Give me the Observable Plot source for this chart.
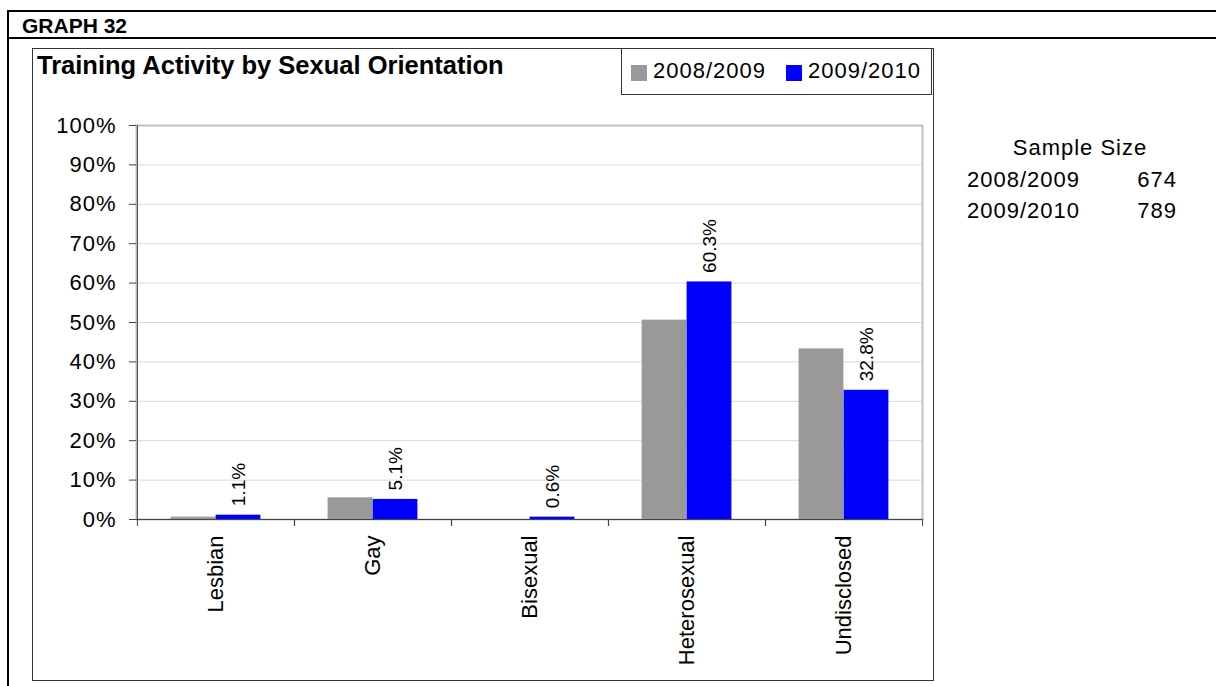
<!DOCTYPE html>
<html>
<head>
<meta charset="utf-8">
<script src="https://cdn.jsdelivr.net/npm/d3@7"></script>
<script src="https://cdn.jsdelivr.net/npm/@observablehq/plot@0.6"></script>
<style>
  html, body { margin: 0; padding: 0; background: #fff; }
  #page { position: relative; width: 1216px; height: 686px; overflow: hidden; font-family: "Liberation Sans", Arial, sans-serif; color: #000; }
  #page > svg { position: absolute; left: 0; top: 0; }
  #page > svg g[aria-label="y-axis tick label"] text { letter-spacing: 1px; }
  .abs { position: absolute; line-height: 1; white-space: nowrap; }
  .wide { letter-spacing: 1px; }
  .line { position: absolute; background: #000; }
</style>
</head>
<body>
<div id="page"></div>
<script>
// ---- data ----
const categories = ["Lesbian", "Gay", "Bisexual", "Heterosexual", "Undisclosed"];
const seriesNames = ["2008/2009", "2009/2010"];
const values2008 = [0.006, 0.055, 0.0, 0.506, 0.433];
const values2009 = [0.011, 0.051, 0.006, 0.603, 0.328];
const labels2009 = ["1.1%", "5.1%", "0.6%", "60.3%", "32.8%"];
const yTicks = [0, 0.1, 0.2, 0.3, 0.4, 0.5, 0.6, 0.7, 0.8, 0.9, 1.0];
const sampleSizes = [674, 789];
const seriesColors = ["#999999", "#0000ff"];
const headerText = "GRAPH 32";
const titleText = "Training Activity by Sexual Orientation";
const sampleTitle = "Sample Size";

const data2008 = categories.map((c, i) => ({category: c, value: values2008[i]}));
const data2009 = categories.map((c, i) => ({category: c, value: values2009[i], label: labels2009[i]}));

const W = 1216, H = 686;
const mL = 136, mR = 294, mT = 125, mB = 167;
const band = (W - mL - mR) / categories.length;
const half = band / 2;
const barW = 45;

const chart = Plot.plot({
  width: W, height: H,
  marginLeft: mL, marginRight: mR, marginTop: mT, marginBottom: mB,
  style: {fontFamily: '"Liberation Sans", Arial, sans-serif', background: "transparent", color: "#000"},
  x: {domain: categories, padding: 0, axis: null},
  y: {domain: [0, 1], axis: null},
  marks: [
    Plot.gridY(yTicks.slice(1), {stroke: "#d9d9d9", strokeOpacity: 1}),
    Plot.frame({stroke: "#c0c0c0", strokeWidth: 2}),
    Plot.barY(data2008, {x: "category", y: "value", fill: seriesColors[0], insetLeft: half - barW, insetRight: half}),
    Plot.barY(data2009, {x: "category", y: "value", fill: seriesColors[1], insetLeft: half, insetRight: half - barW}),
    Plot.text(data2009, {x: "category", y: "value", text: "label", dx: barW / 2, dy: -9, rotate: -90, textAnchor: "start", fontSize: 19, fill: "#000"}),
    Plot.ruleY([0], {stroke: "#444"}),
    Plot.ruleX([categories[0]], {dx: -half, stroke: "#444"}),
    Plot.axisY({ticks: yTicks, tickFormat: d3.format(".0%"), tickSize: 7, tickPadding: 13, fontSize: 22, fill: "#000", stroke: "#444", strokeOpacity: 1, label: null}),
    Plot.axisX({tickSize: 7, tickFormat: () => "", dx: -half, stroke: "#444", strokeOpacity: 1, label: null}),
    Plot.axisX({tickSize: 7, tickFormat: () => "", dx: half, stroke: "#444", strokeOpacity: 1, label: null}),
    Plot.axisX({tickSize: 0, tickPadding: 16, tickRotate: -90, fontSize: 22, fill: "#000", label: null})
  ]
});

const page = document.getElementById("page");
page.appendChild(chart);

function addLine(x, y, w, h, color) {
  const d = document.createElement("div");
  d.className = "line";
  Object.assign(d.style, {left: x + "px", top: y + "px", width: w + "px", height: h + "px"});
  if (color) d.style.background = color;
  page.appendChild(d);
}
function addText(txt, x, baseline, size, opts = {}) {
  const d = document.createElement("div");
  d.className = "abs" + (opts.wide ? " wide" : "");
  d.textContent = txt;
  d.style.fontSize = size + "px";
  d.style.top = (baseline - 0.8465 * size) + "px";
  if (opts.bold) d.style.fontWeight = "bold";
  if (opts.align === "right") { d.style.right = (W - x) + "px"; }
  else if (opts.align === "center") { d.style.left = x + "px"; d.style.transform = "translateX(-50%)"; }
  else d.style.left = x + "px";
  page.appendChild(d);
  return d;
}

// outer frame
addLine(8, 10, W - 8, 2);
addLine(8, 37, W - 8, 2);
addLine(7, 10, 2, H - 10);
// chart box
const box = document.createElement("div");
Object.assign(box.style, {position: "absolute", left: "32px", top: "48px", width: "902px", height: "633px", border: "1px solid #333", boxSizing: "border-box"});
page.appendChild(box);

addText(headerText, 22, 32.7, 21, {bold: true});
addText(titleText, 37, 75, 25.5, {bold: true});

// legend box
const leg = document.createElement("div");
Object.assign(leg.style, {position: "absolute", left: "621px", top: "48px", width: "311px", height: "47px", border: "1px solid #333", boxSizing: "border-box", background: "#fff"});
page.appendChild(leg);
const legX = [631, 786];
seriesNames.forEach((s, i) => {
  const sq = document.createElement("div");
  Object.assign(sq.style, {position: "absolute", left: legX[i] + "px", top: "65px", width: "16px", height: "16px", background: seriesColors[i]});
  page.appendChild(sq);
  addText(s, legX[i] + 22, 78.3, 22, {wide: true});
});

// sample size
addText(sampleTitle, 1080, 156, 22, {align: "center", wide: true});
seriesNames.forEach((s, i) => {
  addText(s, 967, 188 + i * 31, 22, {wide: true});
  addText(String(sampleSizes[i]), 1177, 188 + i * 31, 22, {align: "right", wide: true});
});
</script>
</body>
</html>
